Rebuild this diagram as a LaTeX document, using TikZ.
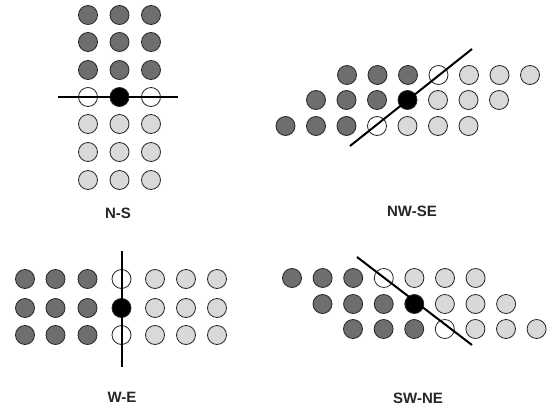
\documentclass[tikz,border=0pt]{standalone}
\usepackage{fontspec}
\setmainfont{Liberation Sans}
\begin{document}
\begin{tikzpicture}[x=1pt,y=-1pt,
  dot/.style={circle,draw=black!85,line width=0.8pt,minimum size=19pt,inner sep=0pt},
  dk/.style={dot,fill=black!57},
  lt/.style={dot,fill=black!15},
  wh/.style={dot,fill=white},
  bk/.style={dot,fill=black},
  axis/.style={line width=2pt,black},
  lbl/.style={font=\fontsize{15}{17}\selectfont\bfseries,text=black!85}]
\useasboundingbox (0,0) rectangle (560,407);
% N-S
\foreach \r/\y in {1/15,2/42,3/70}{
  \foreach \c/\x in {1/88,2/119.5,3/151}{\node[dk] (ns\r\c) at (\x,\y) {};}}
\foreach \r/\y in {5/124,6/152,7/180}{
  \foreach \c/\x in {1/88,2/119.5,3/151}{\node[lt] (ns\r\c) at (\x,\y) {};}}
\node[wh] (ns41) at (88,97) {};
\node[bk] (ns42) at (119.5,97) {};
\node[wh] (ns43) at (151,97) {};
\coordinate (nsA) at (58,97);
\coordinate (nsB) at (178,97);
\draw[axis] (nsA) -- (nsB);
\node[lbl] (lns) at (118,213) {N-S};
% NW-SE
\foreach \r/\y/\s in {1/75/347,2/100/316,3/126/285.5}{
  \foreach \c/\t in {0/dk,1/dk,2/dk,4/lt,5/lt,6/lt}{
    \node[\t] (nw\r\c) at ({\s+30.5*\c},\y) {};}}
\node[wh] (nw13) at (438.5,75) {};
\node[bk] (nw23) at (407.5,100) {};
\node[wh] (nw33) at (377,126) {};
\coordinate (nwA) at (350,146);
\coordinate (nwB) at (472,49);
\draw[axis] (nwA) -- (nwB);
\node[lbl] (lnw) at (412,211) {NW-SE};
% W-E
\foreach \r/\y in {1/279,2/308,3/335}{
  \foreach \c/\x/\t in {1/25/dk,2/55.5/dk,3/87.5/dk,5/155/lt,6/186/lt,7/217/lt}{
    \node[\t] (we\r\c) at (\x,\y) {};}}
\node[wh] (we14) at (121.5,279) {};
\node[bk] (we24) at (121.5,308) {};
\node[wh] (we34) at (121.5,335) {};
\coordinate (weA) at (121.5,251);
\coordinate (weB) at (121.5,367);
\draw[axis] (weA) -- (weB);
\node[lbl] (lwe) at (122,397) {W-E};
% SW-NE
\foreach \r/\y/\s in {1/278/292,2/304/322.5,3/329/353}{
  \foreach \c/\t in {0/dk,1/dk,2/dk,4/lt,5/lt,6/lt}{
    \node[\t] (sw\r\c) at ({\s+30.6*\c},\y) {};}}
\node[wh] (sw13) at (383.8,278) {};
\node[bk] (sw23) at (414.3,304) {};
\node[wh] (sw33) at (444.8,329) {};
\coordinate (swA) at (357,257);
\coordinate (swB) at (472,345);
\draw[axis] (swA) -- (swB);
\node[lbl] (lsw) at (418,398) {SW-NE};
\end{tikzpicture}
\end{document}
